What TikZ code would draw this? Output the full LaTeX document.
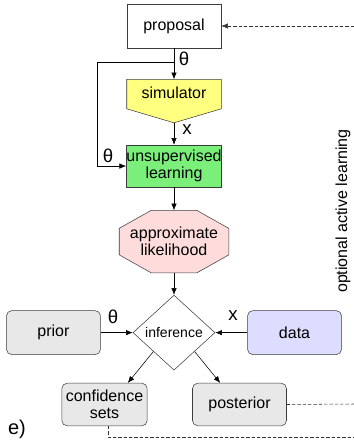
\documentclass[tikz,border=0pt]{standalone}
\usepackage{fontspec}
\setmainfont{Liberation Sans}
\usetikzlibrary{arrows.meta, positioning, calc, shapes.geometric}
\definecolor{simyellow}{RGB}{255,255,128}
\definecolor{learngreen}{RGB}{122,240,122}
\definecolor{likpink}{RGB}{255,220,220}
\definecolor{boxgray}{RGB}{232,232,232}
\definecolor{datablue}{RGB}{221,221,255}
\definecolor{edgegray}{RGB}{60,60,60}

\begin{document}
\begin{tikzpicture}[x=0.75pt, y=-0.75pt, node distance=16.5pt,
    every node/.style={align=center, font=\fontsize{12}{13.5}\selectfont},
    arr/.style={draw=black, -{Latex[length=5pt, width=4pt]}},
    dashline/.style={draw=black!80, dash pattern=on 2.5pt off 1.5pt}]
  \tikzset{block/.style={draw=edgegray, minimum width=70.5pt, minimum height=32pt, inner sep=0pt},
    soft/.style={block, rounded corners=4pt, fill=boxgray},
    lbl/.style={font=\fontsize{14}{14}\selectfont, inner sep=0pt}}
  \useasboundingbox (0,0) rectangle (354,440);
  % main column
  \node[block, fill=white, minimum height=33pt] (prop) at (174,26) {proposal};
  \node[minimum width=70.5pt, minimum height=21.75pt, inner sep=0pt, below=23.25pt of prop] (sim) {};
  \coordinate[below=10.5pt of sim.south] (simtip);
  \draw[draw=edgegray, fill=simyellow] (sim.north west) -- (sim.north east) -- (sim.south east)
    -- (simtip) -- (sim.south west) -- cycle;
  \node[inner sep=0pt] (simtxt) at ([yshift=1pt]sim.center) {simulator};
  \node[block, fill=learngreen, minimum height=31.5pt, below=16.5pt of simtip] (learn) {unsupervised\\[-1pt]learning};
  \node[minimum width=81.75pt, minimum height=46.5pt, inner sep=0pt, below=17.25pt of learn] (lik) {};
  \draw[draw=edgegray, fill=likpink] ($(lik.north west)+(32,0)$) -- ($(lik.north east)+(-32,0)$)
    -- ($(lik.north east)+(0,18)$) -- ($(lik.south east)+(0,-18)$) -- ($(lik.south east)+(-32,0)$)
    -- ($(lik.south west)+(32,0)$) -- ($(lik.south west)+(0,-18)$) -- ($(lik.north west)+(0,18)$) -- cycle;
  \node (liktxt) at (lik.center) {approximate\\[-1pt]likelihood};
  \node[diamond, draw=edgegray, fill=white, minimum width=61.5pt, minimum height=56.25pt, inner sep=0pt,
    below=16.5pt of lik, font=\fontsize{10.5}{12}\selectfont] (inf) {inference};
  % side and lower boxes
  \node[soft, minimum height=33pt, left=24pt of inf] (prior) {prior};
  \node[soft, minimum height=33pt, fill=datablue, right=24pt of inf] (data) {data};
  \node[soft, minimum width=64pt] (conf) at (104.5,404.5) {confidence\\[-1pt]sets};
  \node[soft] (post) at (239.5,404.5) {posterior};
  % labels
  \coordinate (split) at ($(prop.south)!0.45!(sim.north)$);
  \node[lbl] (th1) at (184,59) {θ};
  \node[lbl] (x1) at (187,130) {x};
  \node[lbl] (th2) at (108,156) {θ};
  \node[lbl] (th3) at (113,317) {θ};
  \node[lbl] (x2) at (233,316) {x};
  \node[font=\fontsize{15}{15}\selectfont, inner sep=0pt] (panel) at (17,429) {e)};
  \node[rotate=90] (opt) at (343,211) {optional active learning};
  % connectors
  \draw[arr] (prop) -- (sim);
  \draw[arr] (split) -- ++(-77,0) |- (learn.west);
  \draw[arr] (simtip) -- (learn);
  \draw[arr] (learn) -- (lik);
  \draw[arr] (lik) -- (inf);
  \draw[arr] (prior) -- (inf);
  \draw[arr] (data) -- (inf);
  \draw[arr] (inf.south west) -- ([xshift=17.5pt]conf.north);
  \draw[arr] (inf.south east) -- ([xshift=-14.5pt]post.north);
  % active learning loop
  \coordinate (eTop) at (354,26);
  \coordinate (eMid) at (354,404);
  \coordinate (eBot) at (354,437);
  \draw[dashline] (post.east) -- (eMid);
  \draw[dashline] ([xshift=2.5pt]conf.south) |- (eBot);
  \draw[draw=black!20, dash pattern=on 2.5pt off 1.5pt] (eBot) -- (eTop);
  \draw[dashline, -{Latex[length=5pt, width=4pt]}] (eTop) -- (prop.east);
\end{tikzpicture}
\end{document}
